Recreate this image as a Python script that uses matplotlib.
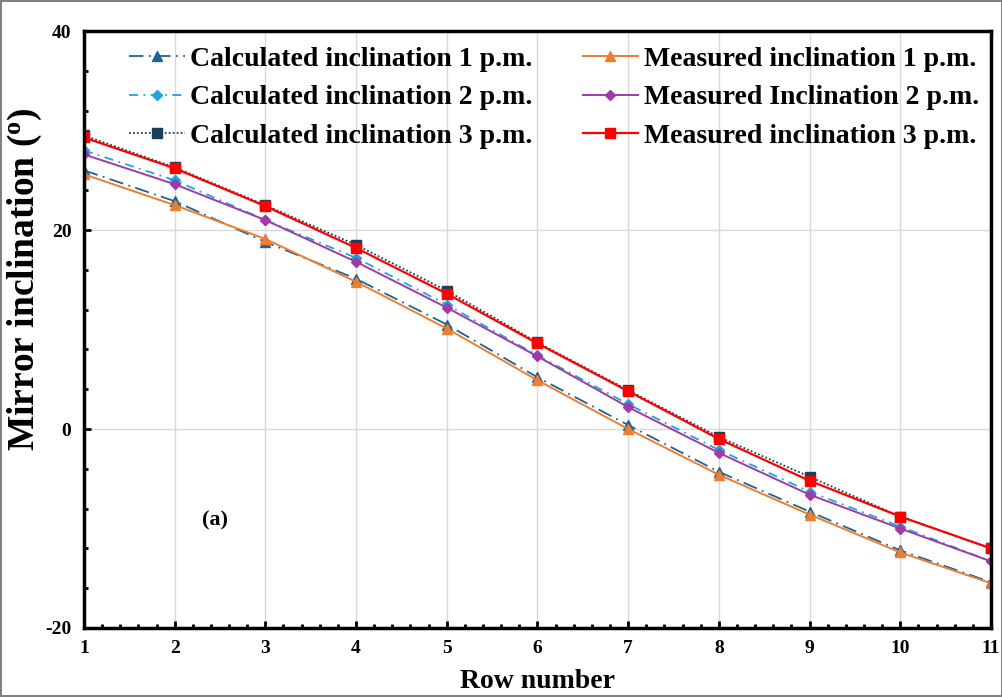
import matplotlib
matplotlib.use("Agg")
import matplotlib.pyplot as plt
from matplotlib.ticker import MultipleLocator

plt.rcParams['font.family'] = ['Liberation Serif', 'DejaVu Serif']
plt.rcParams['font.weight'] = 'bold'
plt.rcParams['axes.unicode_minus'] = False
plt.rcParams['mathtext.fontset'] = 'custom'
plt.rcParams['mathtext.bf'] = 'Liberation Serif:bold'
plt.rcParams['mathtext.rm'] = 'Liberation Serif:bold'

# --- data ---
rows = [1, 2, 3, 4, 5, 6, 7, 8, 9, 10, 11]
calc_1pm = [26.0, 22.9, 18.8, 15.1, 10.5, 5.2, 0.4, -4.3, -8.3, -12.2, -15.4]
calc_2pm = [28.0, 25.0, 21.0, 17.2, 12.5, 7.4, 2.5, -2.1, -6.3, -9.8, -13.3]
calc_3pm = [29.5, 26.3, 22.5, 18.5, 13.9, 8.7, 3.9, -0.8, -4.8, -8.8, -12.0]
meas_1pm = [25.6, 22.5, 19.1, 14.8, 10.1, 4.9, 0.0, -4.6, -8.6, -12.4, -15.5]
meas_2pm = [27.6, 24.6, 21.0, 16.8, 12.2, 7.3, 2.2, -2.4, -6.6, -10.0, -13.3]
meas_3pm = [29.3, 26.2, 22.4, 18.2, 13.6, 8.6, 3.8, -1.0, -5.2, -8.8, -12.0]

fig = plt.figure(figsize=(10.03, 6.97), dpi=100)
fig.patch.set_edgecolor('#808080')
fig.patch.set_linewidth(1.5)
ax = fig.add_axes([0.0837, 0.099, 0.9043, 0.8565])

# left legend column: calculated, right column: measured
ax.plot(rows, calc_1pm, color='#1f6391', linestyle=(0, (8, 3, 1, 3)), lw=1.3,
        marker='^', ms=7, label='Calculated inclination 1 p.m.')
ax.plot(rows, calc_2pm, color='#1ca6df', linestyle=(0, (5, 3, 1, 3)), lw=1.3,
        marker='D', ms=5, label='Calculated inclination 2 p.m.')
ax.plot(rows, calc_3pm, color='#1b3f5a', linestyle=(0, (1, 1.2)), lw=1.3,
        marker='s', ms=7, label='Calculated inclination 3 p.m.')
ax.plot(rows, meas_1pm, color='#ed7d31', lw=1.4,
        marker='^', ms=7, label='Measured inclination 1 p.m.')
ax.plot(rows, meas_2pm, color='#a03aa8', lw=1.4,
        marker='D', ms=5, label='Measured Inclination 2 p.m.')
ax.plot(rows, meas_3pm, color='#ff0000', lw=1.6,
        marker='s', ms=7.5, label='Measured inclination 3 p.m.')

ax.set_xlim(1, 11)
ax.set_ylim(-20, 40)
ax.xaxis.set_major_locator(MultipleLocator(1))
ax.xaxis.set_minor_locator(MultipleLocator(0.2))
ax.yaxis.set_major_locator(MultipleLocator(20))
ax.yaxis.set_minor_locator(MultipleLocator(4))
ax.tick_params(which='both', direction='in', width=2, labelsize=14)
ax.tick_params(which='major', length=5, pad=9)
ax.tick_params(which='minor', length=3)
ax.grid(True, which='major', color='#d9d9d9', lw=1)
for sp in ax.spines.values():
    sp.set_linewidth(2.5)

ax.set_xlabel('Row number', fontsize=20, fontweight='bold', labelpad=8)
ax.set_ylabel('Mirror inclination ($\\mathbf{^{o}}$)', fontsize=27, fontweight='bold')
ax.yaxis.set_label_coords(-0.044, 0.585)

ax.text(0.13, 0.172, '(a)', transform=ax.transAxes, fontsize=16, fontweight='bold')

ax.legend(ncol=2, loc='upper right', bbox_to_anchor=(1.002, 0.997), frameon=False,
          borderpad=0, prop={'size': 20, 'weight': 'bold'}, handlelength=2.0,
          handletextpad=0.2, columnspacing=1.8, labelspacing=0.46)

fig.savefig('out.png', dpi=100)
